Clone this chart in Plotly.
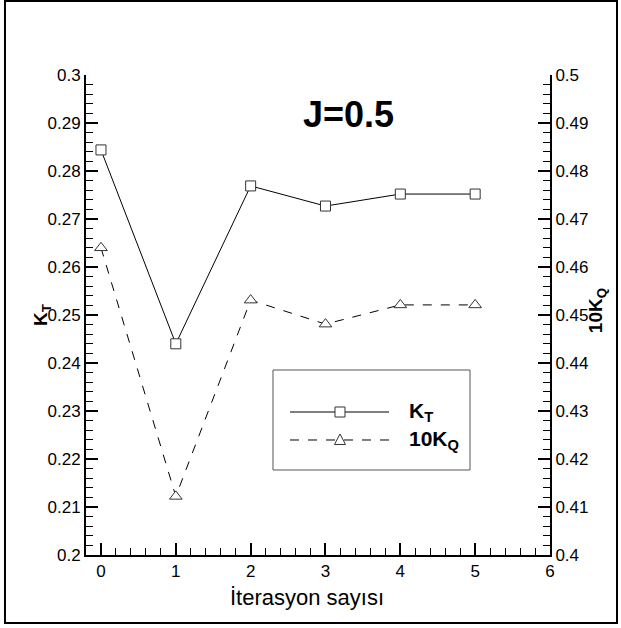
import plotly.graph_objects as go

# Iteration data for J = 0.5
iterations = [0, 1, 2, 3, 4, 5]
kt_values = [0.2844, 0.2440, 0.2769, 0.2727, 0.2752, 0.2752]
kq10_values = [0.4640, 0.4122, 0.4531, 0.4481, 0.4521, 0.4521]

x_tick_vals = [0, 1, 2, 3, 4, 5, 6]
x_tick_text = ["0", "1", "2", "3", "4", "5", "6"]
kt_tick_vals = [0.20, 0.21, 0.22, 0.23, 0.24, 0.25, 0.26, 0.27, 0.28, 0.29, 0.30]
kt_tick_text = ["0.2", "0.21", "0.22", "0.23", "0.24", "0.25", "0.26", "0.27", "0.28", "0.29", "0.3"]
kq_tick_vals = [0.40, 0.41, 0.42, 0.43, 0.44, 0.45, 0.46, 0.47, 0.48, 0.49, 0.50]
kq_tick_text = ["0.4", "0.41", "0.42", "0.43", "0.44", "0.45", "0.46", "0.47", "0.48", "0.49", "0.5"]

FONT = "Liberation Sans, Arial, sans-serif"
MARK = "#333333"

fig = go.Figure()

fig.add_trace(go.Scatter(
    x=iterations, y=kt_values, mode="lines+markers", name="K<sub>T</sub>",
    line=dict(color="black", width=1),
    marker=dict(symbol="square", size=10, color="white", line=dict(color=MARK, width=1)),
    yaxis="y", showlegend=False,
))
fig.add_trace(go.Scatter(
    x=iterations, y=kq10_values, mode="lines+markers", name="10K<sub>Q</sub>",
    line=dict(color="black", width=1, dash="dash"),
    marker=dict(symbol="triangle-up", size=11, color="white", line=dict(color=MARK, width=1)),
    yaxis="y2", showlegend=False,
))

axis_common = dict(
    showline=True, linecolor="black", linewidth=2, mirror=False,
    showgrid=False, zeroline=False,
    ticks="inside", ticklen=12, tickwidth=2, tickcolor="black",
    tickfont=dict(family=FONT, size=17, color="black"),
)

fig.update_layout(
    width=621, height=628,
    margin=dict(l=86, r=71, t=75, b=73),
    paper_bgcolor="white", plot_bgcolor="white",
    xaxis=dict(
        range=[-0.2, 6], tickmode="array", tickvals=x_tick_vals, ticktext=x_tick_text,
        minor=dict(tickmode="linear", tick0=0, dtick=0.2, ticks="inside", ticklen=7,
                   tickwidth=1, tickcolor="black"),
        **axis_common,
    ),
    yaxis=dict(
        range=[0.19999, 0.30001], tickmode="array", tickvals=kt_tick_vals, ticktext=kt_tick_text,
        minor=dict(tickmode="linear", tick0=0.2, dtick=0.002, ticks="inside", ticklen=7,
                   tickwidth=1, tickcolor="black"),
        **axis_common,
    ),
    yaxis2=dict(
        range=[0.39999, 0.50001], tickmode="array", tickvals=kq_tick_vals, ticktext=kq_tick_text,
        overlaying="y", side="right", anchor="x",
        minor=dict(tickmode="linear", tick0=0.4, dtick=0.002, ticks="inside", ticklen=7,
                   tickwidth=1, tickcolor="black"),
        **axis_common,
    ),
)

# Titles and axis labels
annotations = [
    dict(text="<b>J=0.5</b>", x=0.5668, y=0.9177, font=dict(family=FONT, size=36, color="black")),
    dict(text="İterasyon sayısı", x=0.4763, y=-0.0875, font=dict(family=FONT, size=22, color="black")),
    dict(text="<b>K<sub>T</sub></b>", x=-0.0948, y=0.5, textangle=-90,
         font=dict(family=FONT, size=19, color="black")),
    dict(text="<b>10K<sub>Q</sub></b>", x=1.1013, y=0.508, textangle=-90,
         font=dict(family=FONT, size=19, color="black")),
    dict(text="<b>K<sub>T</sub></b>", x=0.6918, y=0.2979, xanchor="left",
         font=dict(family=FONT, size=21, color="black")),
    dict(text="<b>10K<sub>Q</sub></b>", x=0.6918, y=0.2396, xanchor="left",
         font=dict(family=FONT, size=21, color="black")),
]
for a in annotations:
    a.setdefault("xanchor", "center")
    fig.add_annotation(xref="paper", yref="paper", yanchor="middle", showarrow=False, **a)

# Outer frame
fig.add_shape(type="rect", xref="paper", yref="paper", x0=-0.1746, x1=1.1444, y0=-0.1417, y1=1.1542,
              line=dict(color="black", width=2), fillcolor="rgba(0,0,0,0)", layer="above")

# Legend box with sample lines and markers
fig.add_shape(type="rect", xref="paper", yref="paper", x0=0.403, x1=0.8276, y0=0.1771, y1=0.3854,
              line=dict(color="#555555", width=1), fillcolor="white", layer="above")
fig.add_shape(type="line", xref="paper", yref="paper", x0=0.4397, x1=0.6530, y0=0.2979, y1=0.2979,
              line=dict(color="black", width=1), layer="above")
fig.add_shape(type="line", xref="paper", yref="paper", x0=0.4397, x1=0.6530, y0=0.2396, y1=0.2396,
              line=dict(color="black", width=1, dash="dash"), layer="above")
fig.add_shape(type="rect", xref="paper", yref="paper", xsizemode="pixel", ysizemode="pixel",
              xanchor=0.5474, yanchor=0.2979, x0=-5, x1=5, y0=-5, y1=5,
              line=dict(color=MARK, width=1), fillcolor="white", layer="above")
fig.add_shape(type="path", xref="paper", yref="paper", xsizemode="pixel", ysizemode="pixel",
              xanchor=0.5474, yanchor=0.2396, path="M-5.5,-4.5 L5.5,-4.5 L0,6 Z",
              line=dict(color=MARK, width=1), fillcolor="white", layer="above")

fig.write_html("out.html")
